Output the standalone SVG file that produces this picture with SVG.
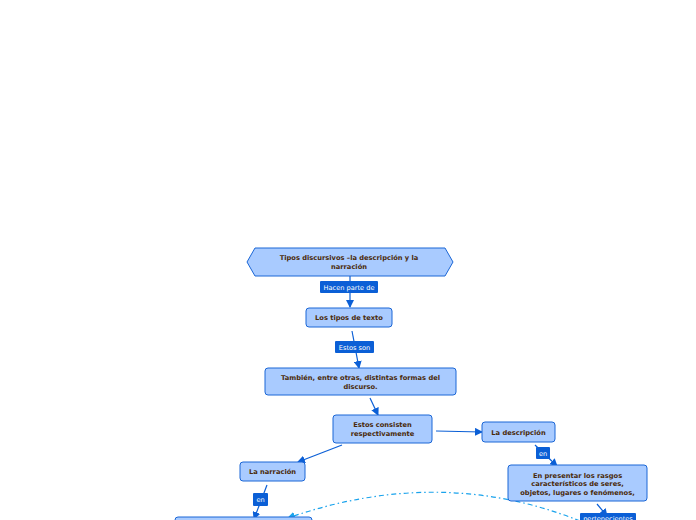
<svg xmlns="http://www.w3.org/2000/svg" width="696" height="520" viewBox="0 0 696 520">
<defs>
<marker id="ah" markerWidth="8" markerHeight="8" refX="7" refY="4" orient="auto" markerUnits="userSpaceOnUse">
<path d="M0,0 L8,4 L0,8 Z" fill="#0b5fd6"/>
</marker>
<marker id="ah2" markerWidth="8" markerHeight="8" refX="7" refY="4" orient="auto" markerUnits="userSpaceOnUse">
<path d="M0,0 L8,4 L0,8 Z" fill="#1aa3ec"/>
</marker>
<style>
.n{fill:#a9cbff;stroke:#1a66d6;stroke-width:1}
.t{font-family:"DejaVu Sans",Verdana,sans-serif;font-weight:bold;font-size:6.7px;fill:#4a2a0a;text-anchor:middle}
.c{stroke:#0b5fd6;stroke-width:1.2;fill:none;marker-end:url(#ah)}
.lb{fill:#0b5fd6}
.lt{font-family:"DejaVu Sans",Verdana,sans-serif;font-size:6.6px;fill:#ffffff;text-anchor:middle}
</style>
</defs>
<rect width="696" height="520" fill="#ffffff"/>
<g id="connectors">
<line class="c" x1="350" y1="276" x2="350" y2="307"/>
<line class="c" x1="352" y1="331" x2="359" y2="368"/>
<line class="c" x1="370" y1="398" x2="378" y2="415"/>
<line class="c" x1="436" y1="431" x2="482" y2="432"/>
<line class="c" x1="342" y1="445" x2="298" y2="462"/>
<line class="c" x1="535" y1="445" x2="557" y2="466"/>
<line class="c" x1="597" y1="504" x2="607" y2="516"/>
<line class="c" x1="267" y1="485" x2="254" y2="519"/>
<path d="M580,521 Q440,465 288,518" stroke="#1aa3ec" stroke-width="1.2" fill="none" stroke-dasharray="5,3,1.5,3" marker-end="url(#ah2)"/>
<rect class="lb" x="320" y="281" width="58" height="12" rx="1"/>
<text class="lt" x="349" y="290">Hacen parte de</text>
<rect class="lb" x="335" y="341" width="39" height="12" rx="1"/>
<text class="lt" x="354.5" y="350">Estos son</text>
<rect class="lb" x="536" y="447" width="14" height="12" rx="1"/>
<text class="lt" x="543" y="456">en</text>
<rect class="lb" x="253" y="493" width="15" height="13" rx="1"/>
<text class="lt" x="260.5" y="502">en</text>
<rect class="lb" x="580" y="513" width="56" height="12" rx="1"/>
<text class="lt" x="608" y="521">pertenecientes</text>
</g>
<g id="n1">
<path class="n" d="M255,248 L445,248 L453,262 L445,276 L255,276 L247,262 Z"/>
<text class="t" x="349" y="260">Tipos discursivos –la descripción y la</text>
<text class="t" x="349" y="269">narración</text>
</g>
<g id="n2">
<rect class="n" x="306" y="308" width="86" height="19" rx="3"/>
<text class="t" x="349" y="320">Los tipos de texto</text>
</g>
<g id="n3">
<rect class="n" x="265" y="368" width="191" height="27" rx="3"/>
<text class="t" x="360.5" y="380">También, entre otras, distintas formas del</text>
<text class="t" x="360.5" y="389">discurso.</text>
</g>
<g id="n4">
<rect class="n" x="333" y="415" width="99" height="28" rx="3"/>
<text class="t" x="382.5" y="427">Estos consisten</text>
<text class="t" x="382.5" y="436">respectivamente</text>
</g>
<g id="n5">
<rect class="n" x="482" y="422" width="73" height="20" rx="3"/>
<text class="t" x="518.5" y="435">La descripción</text>
</g>
<g id="n6">
<rect class="n" x="508" y="465" width="139" height="36" rx="3"/>
<text class="t" x="577.5" y="478">En presentar los rasgos</text>
<text class="t" x="577.5" y="486">característicos de seres,</text>
<text class="t" x="577.5" y="495">objetos, lugares o fenómenos,</text>
</g>
<g id="n7">
<rect class="n" x="240" y="462" width="65" height="19" rx="3"/>
<text class="t" x="272.5" y="474">La narración</text>
</g>
<g id="n8">
<rect class="n" x="175" y="517" width="137" height="20" rx="3"/>
</g>
</svg>
